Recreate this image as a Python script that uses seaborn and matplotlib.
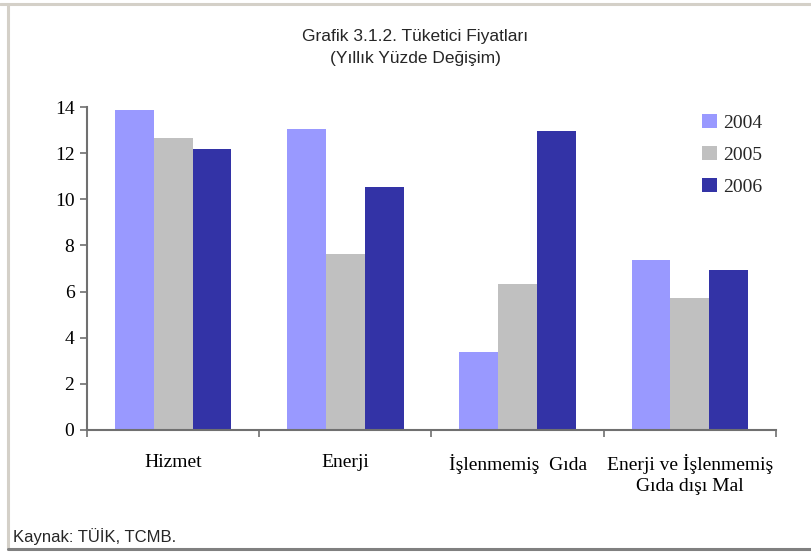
import matplotlib
matplotlib.use("Agg")
import matplotlib.pyplot as plt
import seaborn as sns
import pandas as pd
from matplotlib.lines import Line2D

categories = ["Hizmet", "Enerji", "İşlenmemiş  Gıda", "Enerji ve İşlenmemiş\nGıda dışı Mal"]
years = ["2004", "2005", "2006"]
v2004 = [13.87, 13.05, 3.38, 7.37]
v2005 = [12.66, 7.63, 6.33, 5.72]
v2006 = [12.18, 10.53, 12.94, 6.94]
colors = ["#9999FF", "#C0C0C0", "#3333A6"]

rows = []
for y, vals in zip(years, [v2004, v2005, v2006]):
    for c, v in zip(categories, vals):
        rows.append({"cat": c, "year": y, "val": v})
df = pd.DataFrame(rows)

sns.set_theme(style="white")
plt.rcParams["font.family"] = ["Liberation Serif", "DejaVu Serif"]

fig = plt.figure(figsize=(8.12, 5.56), dpi=100)
ax = fig.add_axes([87/812, 1-430/556, (776-87)/812, (430-107)/556])

sns.barplot(data=df, x="cat", y="val", hue="year", order=categories, hue_order=years,
            palette=colors, width=0.675, saturation=1, ax=ax, legend=True, linewidth=0,
            errorbar=None)

ax.set_ylim(0, 14)
ax.set_xlim(-0.5, 3.5)
ax.set_yticks(range(0, 15, 2))
ax.set_yticklabels([str(t) for t in range(0, 15, 2)], fontsize=14, color="black")
ax.set_xticks([-0.5, 0.5, 1.5, 2.5, 3.5])
ax.set_xticklabels([])
ax.set_xticks(range(4), minor=True)
ax.set_xticklabels(categories, minor=True, fontsize=14, color="black", linespacing=1.3)
ax.tick_params(axis="x", which="major", direction="out", length=5, width=1.2, color="#707070", bottom=True)
ax.tick_params(axis="x", which="minor", length=0, pad=17)
ax.tick_params(axis="y", direction="out", length=5, width=1.2, color="#707070", left=True, pad=4)
ax.set_xlabel("")
ax.set_ylabel("")
for s in ["top", "right"]:
    ax.spines[s].set_visible(False)
for s in ["left", "bottom"]:
    ax.spines[s].set_color("#707070")
    ax.spines[s].set_linewidth(1.5)

leg = ax.legend(loc="upper left", bbox_to_anchor=(702/812, 1-114/556), bbox_transform=fig.transFigure,
                frameon=False, fontsize=14, handlelength=0.75, handleheight=0.75,
                handletextpad=0.35, labelspacing=0.72, borderaxespad=0, borderpad=0)

fig.text(415/812, 1-36/556, "Grafik 3.1.2. Tüketici Fiyatları", ha="center", va="center",
         fontsize=12.5, family=["Liberation Sans", "DejaVu Sans"])
fig.text(415/812, 1-59/556, "(Yıllık Yüzde Değişim)", ha="center", va="center",
         fontsize=12.5, family=["Liberation Sans", "DejaVu Sans"])
fig.text(13/812, 1-537/556, "Kaynak: TÜİK, TCMB.", ha="left", va="center",
         fontsize=12, family=["Liberation Sans", "DejaVu Sans"])

# frame
fig.add_artist(Line2D([0, 1], [1-4/556, 1-4/556], transform=fig.transFigure, color="#d4d0c8", lw=2.2))
fig.add_artist(Line2D([8/812, 8/812], [1-4/556, 1-549/556], transform=fig.transFigure, color="#d4d0c8", lw=2.2))
fig.add_artist(Line2D([8/812, 1], [1-549/556, 1-549/556], transform=fig.transFigure, color="#808080", lw=2.2))

fig.savefig("out.png", dpi=100)
